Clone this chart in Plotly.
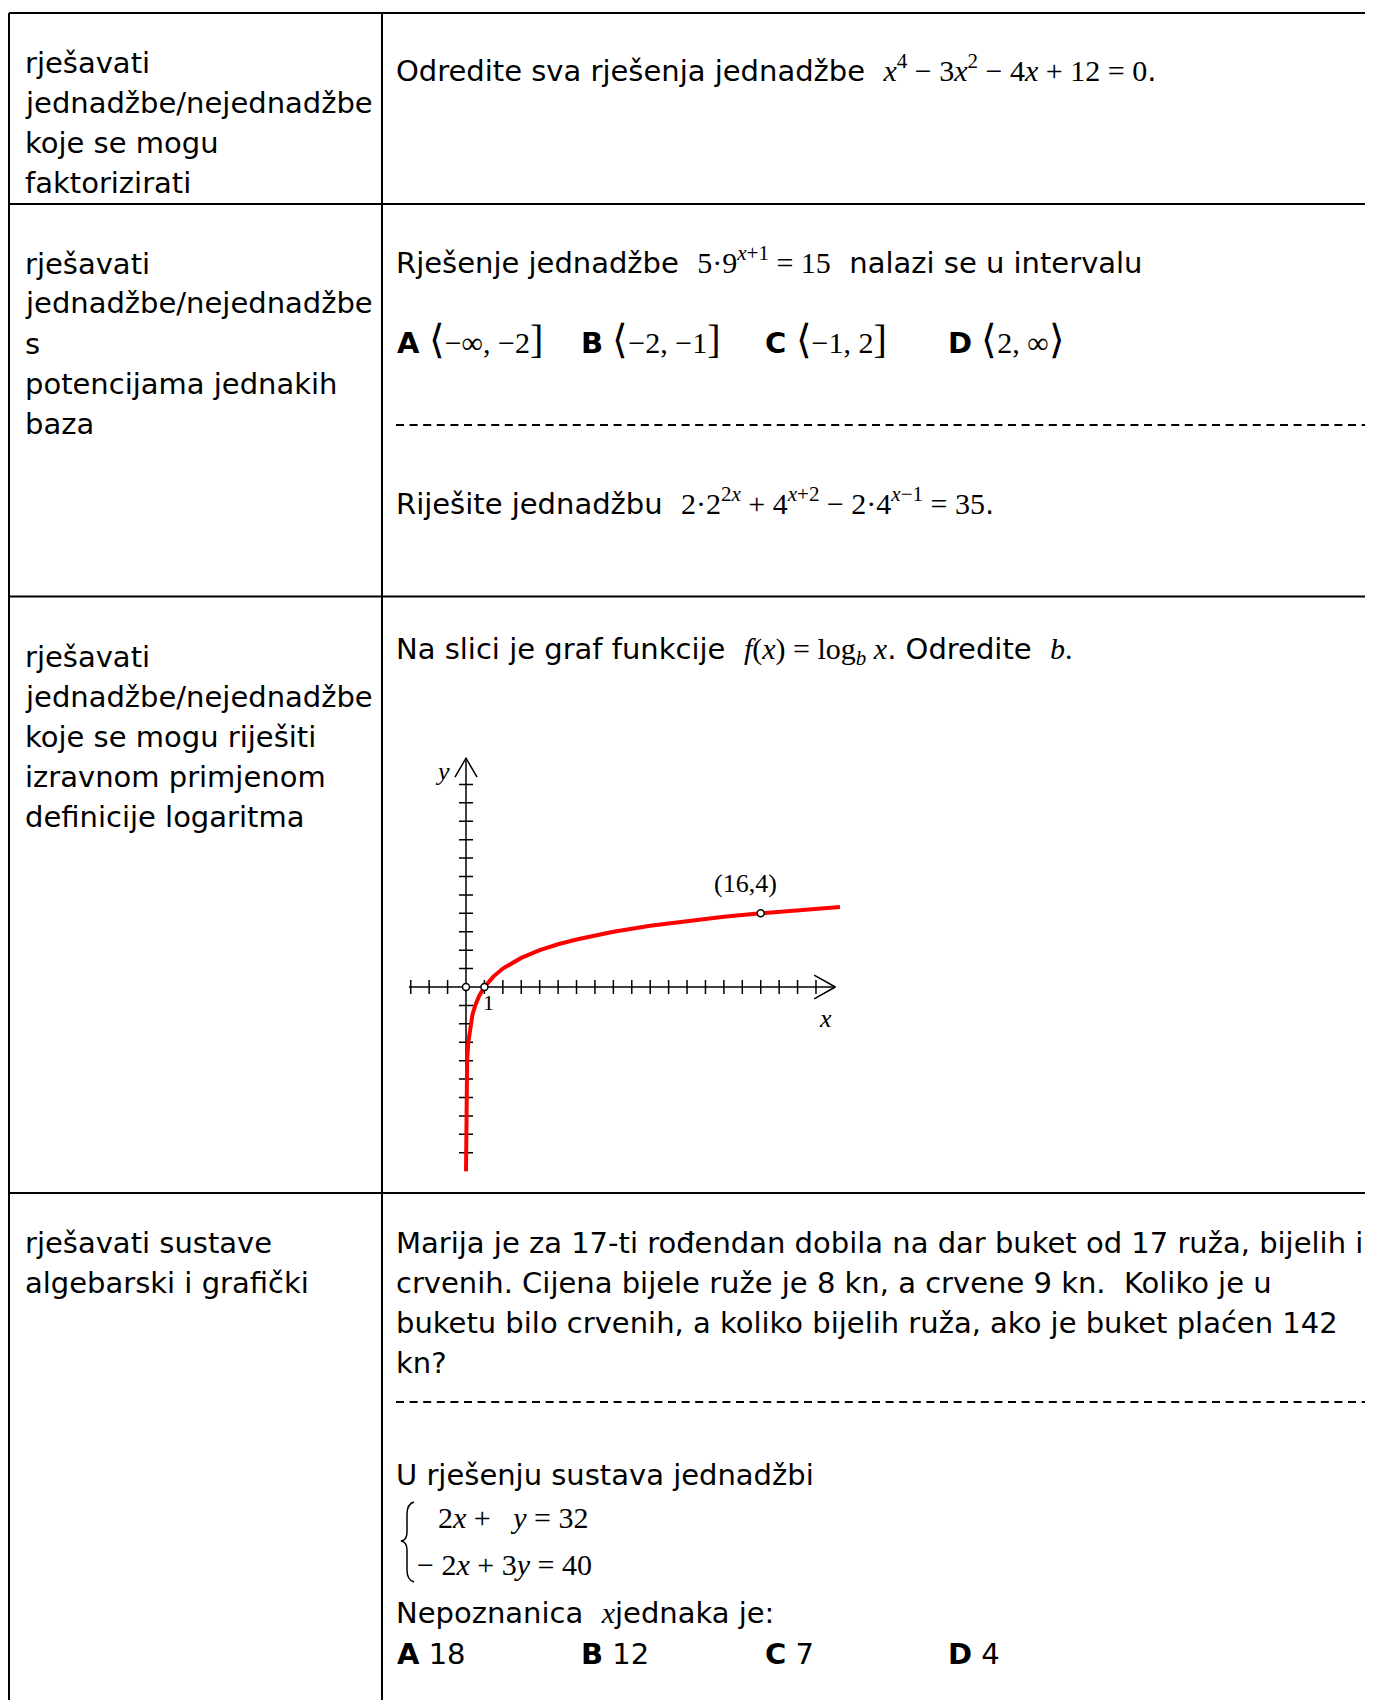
import plotly.graph_objects as go

PAGE_W, PAGE_H = 1373, 1700
PAGE_MARGIN = 8  # browser body margin around the plot div
W, H = PAGE_W - PAGE_MARGIN, PAGE_H - PAGE_MARGIN
SANS = "DejaVu Sans"
SERIF = "Liberation Serif"

# ---- text content ----
left_rows = [
    ["rješavati", "jednadžbe/nejednadžbe", "koje se mogu", "faktorizirati"],
    ["rješavati", "jednadžbe/nejednadžbe", "s", "potencijama jednakih", "baza"],
    ["rješavati", "jednadžbe/nejednadžbe", "koje se mogu riješiti",
     "izravnom primjenom", "definicije logaritma"],
    ["rješavati sustave", "algebarski i grafički"],
]
option_letters = ["A", "B", "C", "D"]
interval_left = ["⟨", "⟨", "⟨", "⟨"]
interval_body = ["−∞, −2", "−2, −1", "−1, 2", "2, ∞"]
interval_right = ["]", "]", "]", "⟩"]
answer_values = ["18", "12", "7", "4"]
story_lines = [
    "Marija je za 17-ti rođendan dobila na dar buket od 17 ruža, bijelih i",
    "crvenih. Cijena bijele ruže je 8 kn, a crvene 9 kn.  Koliko je u",
    "buketu bilo crvenih, a koliko bijelih ruža, ako je buket plaćen 142",
    "kn?",
]

# ---- graph values ----
curve_x = [0.001, 0.004, 0.016, 0.06, 0.125, 0.25, 0.35, 0.5, 0.7, 1, 1.25, 1.5,
           2, 2.5, 3, 4, 5, 6, 8, 10, 12, 14, 16, 18, 20.3]
curve_y = [-10, -8, -6, -4, -3, -2, -1.51, -1, -0.51, 0, 0.32, 0.58,
           1, 1.32, 1.58, 2, 2.32, 2.58, 3, 3.32, 3.58, 3.81, 4, 4.17, 4.34]
x_ticks = [-3, -2, -1, 1, 2, 3, 4, 5, 6, 7, 8, 9, 10, 11, 12, 13, 14, 15, 16, 17, 18, 19]
y_ticks = [-9, -8, -7, -6, -5, -4, -3, -2, -1, 1, 2, 3, 4, 5, 6, 7, 8, 9, 10, 11]
marked_x = [0, 1, 16]
marked_y = [0, 0, 4]
x_axis_ends = [-3.1, 20.05]
y_axis_ends = [-10, 12.42]


# page pixel -> paper fraction
def px(x):
    return (x - PAGE_MARGIN) / W


def py(y):
    return 1 - (y - PAGE_MARGIN) / H


def m(s, size=30):
    return f"<span style='font-family:{SERIF};font-size:{size}px'>{s}</span>"


fig = go.Figure()

# graph placement: origin at (466, 987) page px, 18.42 px per unit
ox, oy, unit = 466, 987, 18.42
xr = [-4, 21]
yr = [-11, 13]
fig.update_layout(
    xaxis=dict(range=xr, domain=[px(ox + xr[0] * unit), px(ox + xr[1] * unit)],
               visible=False, fixedrange=True),
    yaxis=dict(range=yr, domain=[py(oy - yr[0] * unit), py(oy - yr[1] * unit)],
               visible=False, fixedrange=True),
)

ax_line = dict(color="black", width=1.5)
fig.add_trace(go.Scatter(x=x_axis_ends, y=[0, 0], mode="lines", line=ax_line))
fig.add_trace(go.Scatter(x=[0, 0], y=y_axis_ends, mode="lines", line=ax_line))
fig.add_trace(go.Scatter(x=x_ticks, y=[0] * len(x_ticks), mode="markers",
                         marker=dict(symbol="line-ns", size=10,
                                     line=dict(width=1.5, color="black"))))
fig.add_trace(go.Scatter(x=[0] * len(y_ticks), y=y_ticks, mode="markers",
                         marker=dict(symbol="line-ew", size=10,
                                     line=dict(width=1.5, color="black"))))
# arrow heads
fig.add_trace(go.Scatter(x=[18.9, x_axis_ends[1], 18.9], y=[0.65, 0, -0.65],
                         mode="lines", line=ax_line))
fig.add_trace(go.Scatter(x=[-0.6, 0, 0.6], y=[11.4, y_axis_ends[1], 11.4],
                         mode="lines", line=ax_line))
# log curve
fig.add_trace(go.Scatter(x=curve_x, y=curve_y, mode="lines",
                         line=dict(color="#ff0000", width=4)))
fig.add_trace(go.Scatter(x=marked_x, y=marked_y, mode="markers",
                         marker=dict(size=7, color="white",
                                     line=dict(width=1.5, color="black"))))

graph_labels = [("<i>y</i>", -1.3, 11.7, 26), ("<i>x</i>", 19.5, -1.7, 26),
                ("1", 1.2, -0.85, 22), ("(16,4)", 15.2, 5.6, 26)]
for txt, gx, gy, fs in graph_labels:
    fig.add_annotation(x=gx, y=gy, xref="x", yref="y", text=txt, showarrow=False,
                       font=dict(family=SERIF, size=fs, color="black"))

# ---- table rules ----
shapes = []
lw = 2
for yy in [13, 204, 596.5, 1193]:
    shapes.append(dict(type="line", xref="paper", yref="paper",
                       x0=px(9), x1=px(PAGE_W + 10), y0=py(yy), y1=py(yy),
                       line=dict(color="black", width=lw)))
for xx in [9, 382]:
    shapes.append(dict(type="line", xref="paper", yref="paper",
                       x0=px(xx), x1=px(xx), y0=py(13), y1=py(PAGE_H + 10),
                       line=dict(color="black", width=lw)))
for yy in [425, 1402]:
    shapes.append(dict(type="line", xref="paper", yref="paper",
                       x0=px(396), x1=px(PAGE_W + 10), y0=py(yy), y1=py(yy),
                       line=dict(color="black", width=2, dash="8px,5.6px")))


def P(x, y):
    return f"{px(x):.5f},{py(y):.5f}"


brace = (f"M {P(414, 1502)} Q {P(407, 1504)} {P(407, 1514)} L {P(407, 1532)} "
         f"Q {P(407, 1540)} {P(401, 1541)} Q {P(407, 1542)} {P(407, 1550)} "
         f"L {P(407, 1570)} Q {P(407, 1580)} {P(414, 1582)}")
shapes.append(dict(type="path", xref="paper", yref="paper", path=brace,
                   line=dict(color="black", width=1.5)))
fig.update_layout(shapes=shapes)


def text(x, y, s, size=29):
    fig.add_annotation(x=px(x), y=py(y), xref="paper", yref="paper", text=s,
                       showarrow=False, xanchor="left", yanchor="middle",
                       font=dict(family=SANS, size=size, color="black"))


# left column
for start, lines in zip([63, 263.5, 657, 1243], left_rows):
    for i, s in enumerate(lines):
        text(23, start + 40 * i, s)

# row 1
text(394, 68, "Odredite sva rješenja jednadžbe  "
     + m("<i>x</i><sup>4</sup> − 3<i>x</i><sup>2</sup> − 4<i>x</i> + 12 = 0") + ".")

# row 2
text(394, 260, "Rješenje jednadžbe  " + m("5·9<sup><i>x</i>+1</sup> = 15")
     + "  nalazi se u intervalu")
for xx, let, lb, body, rb in zip([395, 579, 763, 946], option_letters,
                                 interval_left, interval_body, interval_right):
    text(xx, 340, f"<b>{let}</b> " + m(lb, 40) + m(body) + m(rb, 40))
text(394, 502, "Riješite jednadžbu  "
     + m("2·2<sup>2<i>x</i></sup> + 4<sup><i>x</i>+2</sup> − 2·4<sup><i>x</i>−1</sup> = 35")
     + ".")

# row 3
text(394, 651, "Na slici je graf funkcije  "
     + m("<i>f</i>(<i>x</i>) = log<sub><i>b</i></sub> <i>x</i>") + ". Odredite  "
     + m("<i>b</i>."))

# row 4
for i, s in enumerate(story_lines):
    text(394, 1243 + 40 * i, s)
text(394, 1475, "U rješenju sustava jednadžbi")
text(436, 1517, m("2<i>x</i> +   <i>y</i> = 32"))
text(415, 1564, m("− 2<i>x</i> + 3<i>y</i> = 40"))
text(394, 1613, "Nepoznanica  " + m("<i>x</i>") + "jednaka je:")
for xx, let, val in zip([395, 579, 763, 946], option_letters, answer_values):
    text(xx, 1654, f"<b>{let}</b> {val}")

fig.update_layout(width=W, height=H, margin=dict(l=0, r=0, t=0, b=0),
                  paper_bgcolor="white", plot_bgcolor="white", showlegend=False)
fig.write_html("out.html")
